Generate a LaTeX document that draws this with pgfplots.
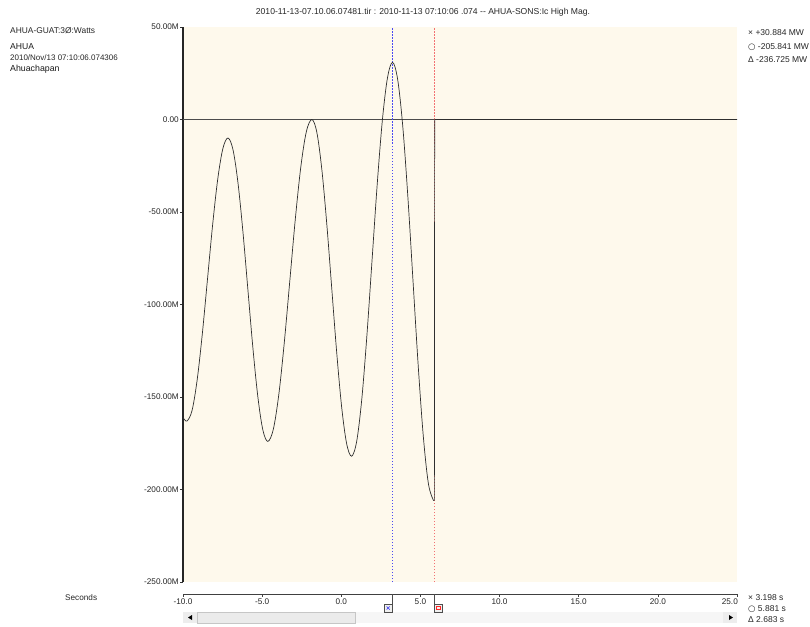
\documentclass[border=0pt]{standalone}
\usepackage{fontspec}
\setmainfont{Liberation Sans}
\newfontfamily\dejavu{DejaVu Sans}
\usepackage{pgfplots}
\pgfplotsset{compat=1.18}
\definecolor{bgc}{HTML}{FEF9EC}
\definecolor{curv}{HTML}{2E2E2E}
\definecolor{cblue}{HTML}{4A4AF2}
\definecolor{cred}{HTML}{F27272}
\newcommand{\sm}{\fontsize{8.5}{10}\selectfont}
\newcommand{\tk}{\fontsize{8.2}{10}\selectfont}
\begin{document}
\begin{tikzpicture}
\useasboundingbox (0pt,0pt) rectangle (810pt,-626pt);
% ---------- scrollbar ----------
\fill[gray!7] (183pt,-612pt) rectangle (737pt,-623pt);
\fill[gray!14] (183pt,-612pt) rectangle (197pt,-623pt);
\filldraw[fill=gray!16, draw=gray!45, line width=0.4pt] (197pt,-612pt) rectangle (355pt,-623pt);
\fill[gray!14] (723pt,-612pt) rectangle (737pt,-623pt);
\fill[black] (188pt,-617.5pt) -- (192pt,-615pt) -- (192pt,-620pt) -- cycle;
\fill[black] (733pt,-617.5pt) -- (729pt,-615pt) -- (729pt,-620pt) -- cycle;
% ---------- main axis ----------
\begin{axis}[name=main,
  at={(183pt,-582pt)}, anchor=south west,
  scale only axis, width=554pt, height=555pt,
  xmin=-10, xmax=25, ymin=-250, ymax=50,
  axis background/.style={fill=bgc},
  axis x line=none, axis y line=left,
  y axis line style={-, line width=2pt, black!85},
  xtick=\empty,
  ytick={-250,-200,-150,-100,-50,0,50},
  yticklabels={-250.00M,-200.00M,-150.00M,-100.00M,-50.00M,0.00,50.00M},
  ytick style={black!80, line width=0.5pt},
  tick align=outside, major tick length=3pt,
  yticklabel style={font=\tk, text=black!85, inner sep=1pt},
  clip=true,
]
\addplot[no marks, black!70, line width=0.7pt] coordinates {(-10,0) (25,0)};
\addplot[no marks, cblue, dash pattern=on 1.5pt off 1.5pt, line width=0.7pt] coordinates {(3.198,-250) (3.198,50)};
\addplot[no marks, cred, dash pattern=on 1.5pt off 1.5pt, line width=0.7pt] coordinates {(5.881,-250) (5.881,50)};
\addplot[no marks, curv, line width=0.7pt, smooth, tension=0.55] coordinates {
(-10,-161) (-9.75,-163) (-9.426,-157.2) (-9.103,-140.6) (-8.779,-115.8) (-8.455,-86.5) (-8.131,-57.2) (-7.808,-32.4) (-7.484,-15.8) (-7.16,-10)
(-6.845,-16.2) (-6.53,-34.0) (-6.215,-60.6) (-5.90,-92) (-5.585,-123.4) (-5.27,-150.0) (-4.955,-167.8) (-4.64,-174)
(-4.293,-167.4) (-3.945,-148.5) (-3.598,-120.3) (-3.25,-87) (-2.903,-53.7) (-2.555,-25.5) (-2.208,-6.6) (-1.86,0)
(-1.546,-6.9) (-1.233,-26.7) (-0.919,-56.2) (-0.605,-91) (-0.291,-125.8) (0.023,-155.4) (0.336,-175.1) (0.65,-182)
(0.974,-173.9) (1.298,-150.9) (1.621,-116.4) (1.945,-75.8) (2.269,-35.1) (2.593,-0.6) (2.916,22.4) (3.24,30.9)
(3.564,21.5) (3.888,-4.1) (4.211,-42.5) (4.535,-87.8) (4.859,-133.0) (5.183,-171.4) (5.506,-197.0) (5.83,-206)};
\addplot[no marks, curv, line width=0.7pt] coordinates {(5.83,-206) (5.881,-205.841) (5.90,0) (25,0)};
\end{axis}
% ---------- separate time axis ----------
\begin{axis}[
  at={(183pt,-594pt)}, anchor=south west,
  scale only axis, width=554pt, height=1pt,
  xmin=-10, xmax=25, ymin=0, ymax=1,
  axis y line=none, axis x line=bottom,
  x axis line style={-, black!75, line width=0.7pt},
  ytick=\empty,
  xtick={-10,-5,0,5,10,15,20},
  xticklabels={-10.0,-5.0,0.0,5.0,10.0,15.0,20.0},
  extra x ticks={25},
  extra x tick labels={25.0},
  extra x tick style={xticklabel style={anchor=north east, xshift=2pt}},
  xtick style={black!75, line width=0.5pt},
  tick align=outside, major tick length=2.5pt,
  xticklabel style={font=\tk, text=black!85, inner sep=1pt, yshift=-1pt},
  clip=false,
]
\addplot[no marks, black!70, line width=0.7pt] coordinates {(3.198,0) (3.198,-12)};
\addplot[no marks, black!70, line width=0.7pt] coordinates {(5.881,0) (5.881,-12)};
\addplot[only marks, mark=square*, mark size=3.8pt, mark options={fill=gray!12, draw=black!70, line width=0.5pt}] coordinates {(2.96,-14) (6.12,-14)};
\addplot[only marks, mark=x, mark size=2.2pt, mark options={cblue, line width=0.8pt}] coordinates {(2.96,-14)};
\addplot[only marks, mark=square, mark size=1.8pt, mark options={red!85, line width=0.8pt}] coordinates {(6.12,-14)};
\end{axis}
% ---------- texts ----------
\node[font=\fontsize{8.6}{10}\selectfont, text=black!85] at (423pt,-12pt) {2010-11-13-07.10.06.07481.tir : 2010-11-13 07:10:06 .074 {-}{-} AHUA-SONS:Ic High Mag.};
\node[font=\fontsize{8.4}{10}\selectfont, text=black!85, anchor=west, inner sep=0pt] at (10pt,-31pt) {AHUA-GUAT:3Ø:Watts};
\node[font=\fontsize{8.6}{10}\selectfont, text=black!90, anchor=west, inner sep=0pt] at (10pt,-47pt) {AHUA};
\node[font=\fontsize{8}{9}\selectfont, text=black!85, anchor=west, inner sep=0pt] at (10pt,-58pt) {2010/Nov/13 07:10:06.074306};
\node[font=\fontsize{8.8}{10}\selectfont, text=black!90, anchor=west, inner sep=0pt] at (10pt,-69pt) {Ahuachapan};
\node[font=\sm, text=black!85, anchor=west, inner sep=0pt] at (748pt,-33pt) {× +30.884 MW};
\node[font=\sm, text=black!85, anchor=west, inner sep=0pt] at (748pt,-47pt) {{\dejavu ○} -205.841 MW};
\node[font=\sm, text=black!85, anchor=west, inner sep=0pt] at (748pt,-60pt) {Δ -236.725 MW};
\node[font=\tk, text=black!85, anchor=west, inner sep=0pt] at (65pt,-598pt) {Seconds};
\node[font=\sm, text=black!85, anchor=west, inner sep=0pt] at (748pt,-598pt) {× 3.198 s};
\node[font=\sm, text=black!85, anchor=west, inner sep=0pt] at (748pt,-609pt) {{\dejavu ○} 5.881 s};
\node[font=\sm, text=black!85, anchor=west, inner sep=0pt] at (748pt,-620pt) {Δ 2.683 s};
\end{tikzpicture}
\end{document}
